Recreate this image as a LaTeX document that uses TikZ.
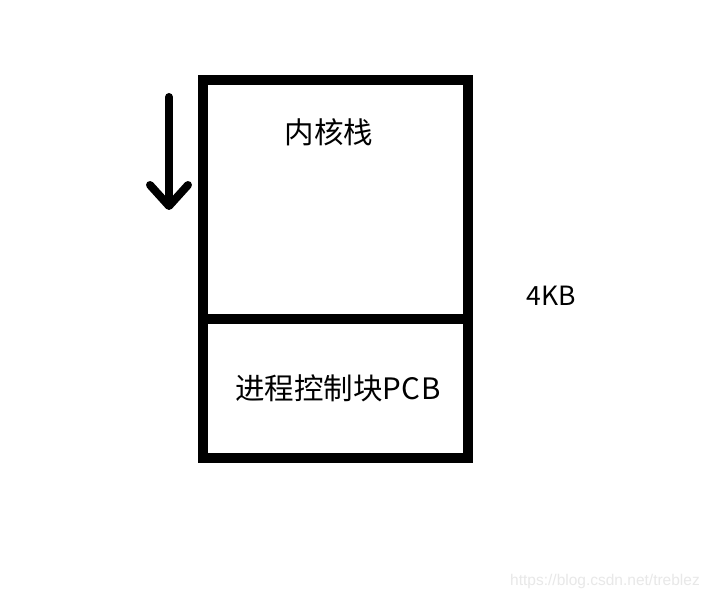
\documentclass[tikz,border=0pt]{standalone}
\usepackage{fontspec}
\setmainfont{Noto Sans CJK SC}
\newfontfamily\markfont{Liberation Sans}
\usetikzlibrary{arrows.meta}
\begin{document}
\begin{tikzpicture}[
    x=1pt, y=-1pt,
    block/.style={
      draw,
      line width=10pt,
      outer sep=0pt,
      inner sep=0pt,
      minimum width=265pt,
      anchor=north west
    },
    label/.style={
      font=\fontsize{29.5}{34}\selectfont,
      inner sep=0pt
    }
  ]
  \useasboundingbox[fill=white] (0,0) rectangle (710,599);

  % The 4KB kernel stack page: stack on top, PCB at the bottom
  \node[block, minimum height=239pt] (stack) at (203,80) {};
  \node[block, minimum height=139pt] (pcb) at (203,319) {};

  % Labels
  \node[label] (stacktext) at (329,132) {内核栈};
  \node[label] (pcbtext) at (338,388) {进程控制块P\kern0.5ptC\kern0.5ptB};
  \node[label, font=\fontsize{26.5}{30}\selectfont] (size) at (551,296) {4KB};

  % Growth direction of the stack
  \coordinate (growtop) at (169,97);
  \coordinate (growtip) at (169,210);
  \draw[line width=8pt, line cap=round,
        -{Straight Barb[length=21pt, width=38pt, line cap=round, line join=round]}]
    (growtop) -- (growtip);

  % Watermark
  \node[font=\markfont\fontsize{15.5}{18}\selectfont, text=gray!18] (mark) at (605,581) {https://blog.csdn.net/treblez};

\end{tikzpicture}
\end{document}
